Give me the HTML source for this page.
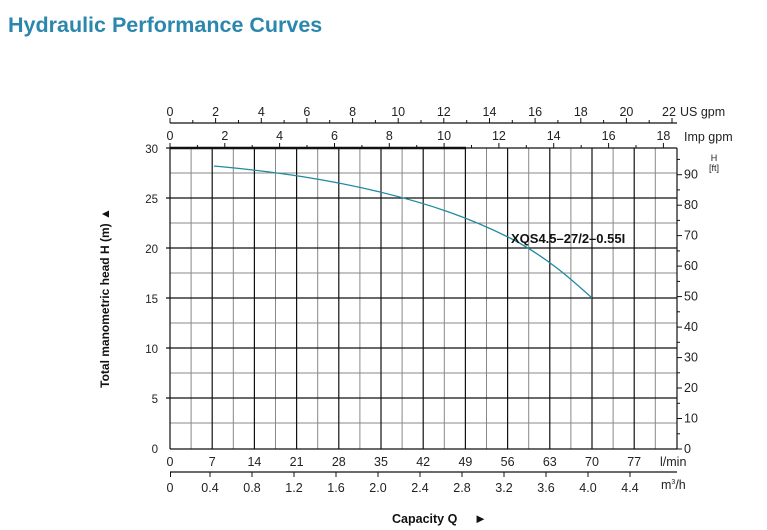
<!DOCTYPE html>
<html><head><meta charset="utf-8"><style>
body{margin:0;background:#fff;width:767px;height:530px;overflow:hidden}
svg{display:block;font-family:"Liberation Sans",Arial,sans-serif}
</style></head><body>
<svg width="767" height="530" viewBox="0 0 767 530" xmlns="http://www.w3.org/2000/svg">
<text x="8" y="32" font-size="21.5" font-weight="bold" fill="#2b87ad">Hydraulic Performance Curves</text>
<g stroke="#888" stroke-width="1">
<line x1="191.1" y1="148" x2="191.1" y2="449"/><line x1="233.3" y1="148" x2="233.3" y2="449"/><line x1="275.5" y1="148" x2="275.5" y2="449"/><line x1="317.7" y1="148" x2="317.7" y2="449"/><line x1="359.9" y1="148" x2="359.9" y2="449"/><line x1="402.1" y1="148" x2="402.1" y2="449"/><line x1="444.3" y1="148" x2="444.3" y2="449"/><line x1="486.5" y1="148" x2="486.5" y2="449"/><line x1="528.7" y1="148" x2="528.7" y2="449"/><line x1="570.9" y1="148" x2="570.9" y2="449"/><line x1="613.1" y1="148" x2="613.1" y2="449"/><line x1="655.3" y1="148" x2="655.3" y2="449"/>
<line x1="170" y1="173" x2="677" y2="173"/><line x1="170" y1="223" x2="677" y2="223"/><line x1="170" y1="273" x2="677" y2="273"/><line x1="170" y1="323" x2="677" y2="323"/><line x1="170" y1="373" x2="677" y2="373"/><line x1="170" y1="423" x2="677" y2="423"/>
</g>
<g stroke="#111" stroke-width="1.2">
<line x1="212.2" y1="148" x2="212.2" y2="449"/><line x1="254.4" y1="148" x2="254.4" y2="449"/><line x1="296.6" y1="148" x2="296.6" y2="449"/><line x1="338.8" y1="148" x2="338.8" y2="449"/><line x1="381" y1="148" x2="381" y2="449"/><line x1="423.2" y1="148" x2="423.2" y2="449"/><line x1="465.4" y1="148" x2="465.4" y2="449"/><line x1="507.6" y1="148" x2="507.6" y2="449"/><line x1="549.8" y1="148" x2="549.8" y2="449"/><line x1="592" y1="148" x2="592" y2="449"/><line x1="634.2" y1="148" x2="634.2" y2="449"/>
<line x1="166" y1="198" x2="677" y2="198"/><line x1="166" y1="248" x2="677" y2="248"/><line x1="166" y1="298" x2="677" y2="298"/><line x1="166" y1="348" x2="677" y2="348"/><line x1="166" y1="398" x2="677" y2="398"/>
<line x1="166" y1="148" x2="170" y2="148"/>
<line x1="170" y1="148" x2="170" y2="449"/><line x1="677" y1="148" x2="677" y2="449"/><line x1="170" y1="449" x2="677" y2="449"/>
</g>
<line x1="170" y1="148" x2="466" y2="148" stroke="#111" stroke-width="2.5"/>
<line x1="466" y1="148" x2="677" y2="148" stroke="#111" stroke-width="1.2"/>
<path d="M214,166 C280,172 330,180 380,192 C430,204 470,218 510,238 C545,256 570,278 592,298" fill="none" stroke="#1f8aa0" stroke-width="1.3"/>
<text x="511" y="243" font-size="13" font-weight="bold" fill="#111">XQS4.5–27/2–0.55I</text>
<g font-size="11.5" fill="#222" text-anchor="end">
<text x="158" y="153">30</text><text x="158" y="203">25</text><text x="158" y="253">20</text><text x="158" y="303">15</text><text x="158" y="353">10</text><text x="158" y="403">5</text><text x="158" y="453">0</text>
</g>
<text transform="translate(109,298) rotate(-90)" font-size="12" font-weight="bold" fill="#111" text-anchor="middle">Total manometric head H (m)   ▲</text>
<line x1="170" y1="123" x2="677" y2="123" stroke="#111" stroke-width="1.2"/>
<g stroke="#111" stroke-width="1">
<line x1="170" y1="123" x2="170" y2="118"/><line x1="192.8" y1="123" x2="192.8" y2="120"/><line x1="215.6" y1="123" x2="215.6" y2="118"/><line x1="238.5" y1="123" x2="238.5" y2="120"/><line x1="261.3" y1="123" x2="261.3" y2="118"/><line x1="284.1" y1="123" x2="284.1" y2="120"/><line x1="306.9" y1="123" x2="306.9" y2="118"/><line x1="329.7" y1="123" x2="329.7" y2="120"/><line x1="352.6" y1="123" x2="352.6" y2="118"/><line x1="375.4" y1="123" x2="375.4" y2="120"/><line x1="398.2" y1="123" x2="398.2" y2="118"/><line x1="421" y1="123" x2="421" y2="120"/><line x1="443.8" y1="123" x2="443.8" y2="118"/><line x1="466.7" y1="123" x2="466.7" y2="120"/><line x1="489.5" y1="123" x2="489.5" y2="118"/><line x1="512.3" y1="123" x2="512.3" y2="120"/><line x1="535.1" y1="123" x2="535.1" y2="118"/><line x1="557.9" y1="123" x2="557.9" y2="120"/><line x1="580.8" y1="123" x2="580.8" y2="118"/><line x1="603.6" y1="123" x2="603.6" y2="120"/><line x1="626.4" y1="123" x2="626.4" y2="118"/><line x1="649.2" y1="123" x2="649.2" y2="120"/><line x1="672" y1="123" x2="672" y2="118"/>
</g>
<g font-size="12.5" fill="#222" text-anchor="middle">
<text x="170" y="116">0</text><text x="215.6" y="116">2</text><text x="261.3" y="116">4</text><text x="306.9" y="116">6</text><text x="352.6" y="116">8</text><text x="398.2" y="116">10</text><text x="443.8" y="116">12</text><text x="489.5" y="116">14</text><text x="535.1" y="116">16</text><text x="580.8" y="116">18</text><text x="626.4" y="116">20</text><text x="669" y="116">22</text>
</g>
<text x="680" y="116" font-size="12.5" fill="#222">US gpm</text>
<g stroke="#111" stroke-width="1">
<line x1="170" y1="148" x2="170" y2="143"/><line x1="197.4" y1="148" x2="197.4" y2="145"/><line x1="224.8" y1="148" x2="224.8" y2="143"/><line x1="252.2" y1="148" x2="252.2" y2="145"/><line x1="279.6" y1="148" x2="279.6" y2="143"/><line x1="307" y1="148" x2="307" y2="145"/><line x1="334.5" y1="148" x2="334.5" y2="143"/><line x1="361.9" y1="148" x2="361.9" y2="145"/><line x1="389.3" y1="148" x2="389.3" y2="143"/><line x1="416.7" y1="148" x2="416.7" y2="145"/><line x1="444.1" y1="148" x2="444.1" y2="143"/><line x1="471.5" y1="148" x2="471.5" y2="145"/><line x1="498.9" y1="148" x2="498.9" y2="143"/><line x1="526.3" y1="148" x2="526.3" y2="145"/><line x1="553.7" y1="148" x2="553.7" y2="143"/><line x1="581.2" y1="148" x2="581.2" y2="145"/><line x1="608.6" y1="148" x2="608.6" y2="143"/><line x1="636" y1="148" x2="636" y2="145"/><line x1="663.4" y1="148" x2="663.4" y2="143"/>
</g>
<g font-size="12.5" fill="#222" text-anchor="middle">
<text x="170" y="140">0</text><text x="224.8" y="140">2</text><text x="279.6" y="140">4</text><text x="334.5" y="140">6</text><text x="389.3" y="140">8</text><text x="444.1" y="140">10</text><text x="498.9" y="140">12</text><text x="553.7" y="140">14</text><text x="608.6" y="140">16</text><text x="663.4" y="140">18</text>
</g>
<text x="684" y="141" font-size="12.5" fill="#222">Imp gpm</text>
<g stroke="#111" stroke-width="1">
<line x1="677" y1="449" x2="682" y2="449"/><line x1="677" y1="433.8" x2="680" y2="433.8"/><line x1="677" y1="418.5" x2="682" y2="418.5"/><line x1="677" y1="403.3" x2="680" y2="403.3"/><line x1="677" y1="388" x2="682" y2="388"/><line x1="677" y1="372.8" x2="680" y2="372.8"/><line x1="677" y1="357.6" x2="682" y2="357.6"/><line x1="677" y1="342.3" x2="680" y2="342.3"/><line x1="677" y1="327.1" x2="682" y2="327.1"/><line x1="677" y1="311.8" x2="680" y2="311.8"/><line x1="677" y1="296.6" x2="682" y2="296.6"/><line x1="677" y1="281.4" x2="680" y2="281.4"/><line x1="677" y1="266.1" x2="682" y2="266.1"/><line x1="677" y1="250.9" x2="680" y2="250.9"/><line x1="677" y1="235.6" x2="682" y2="235.6"/><line x1="677" y1="220.4" x2="680" y2="220.4"/><line x1="677" y1="205.2" x2="682" y2="205.2"/><line x1="677" y1="189.9" x2="680" y2="189.9"/><line x1="677" y1="174.7" x2="682" y2="174.7"/><line x1="677" y1="159.4" x2="680" y2="159.4"/>
</g>
<g font-size="12.5" fill="#222">
<text x="684" y="453">0</text><text x="684" y="422.5">10</text><text x="684" y="392">20</text><text x="684" y="361.6">30</text><text x="684" y="331.1">40</text><text x="684" y="300.6">50</text><text x="684" y="270.1">60</text><text x="684" y="239.6">70</text><text x="684" y="209.2">80</text><text x="684" y="178.7">90</text>
</g>
<text x="714" y="161" font-size="9" fill="#222" text-anchor="middle">H</text>
<text x="714" y="171" font-size="9" fill="#222" text-anchor="middle">[ft]</text>
<g font-size="12.5" fill="#222" text-anchor="middle">
<text x="170" y="466">0</text><text x="212.2" y="466">7</text><text x="254.4" y="466">14</text><text x="296.6" y="466">21</text><text x="338.8" y="466">28</text><text x="381" y="466">35</text><text x="423.2" y="466">42</text><text x="465.4" y="466">49</text><text x="507.6" y="466">56</text><text x="549.8" y="466">63</text><text x="592" y="466">70</text><text x="634.2" y="466">77</text>
</g>
<text x="660" y="466" font-size="12.5" fill="#222">l/min</text>
<line x1="170" y1="472" x2="677" y2="472" stroke="#111" stroke-width="1.2"/>
<g stroke="#111" stroke-width="1">
<line x1="170.5" y1="472" x2="170.5" y2="477"/><line x1="210" y1="472" x2="210" y2="477"/><line x1="252" y1="472" x2="252" y2="477"/><line x1="294" y1="472" x2="294" y2="477"/><line x1="336" y1="472" x2="336" y2="477"/><line x1="378" y1="472" x2="378" y2="477"/><line x1="420" y1="472" x2="420" y2="477"/><line x1="462" y1="472" x2="462" y2="477"/><line x1="504" y1="472" x2="504" y2="477"/><line x1="546" y1="472" x2="546" y2="477"/><line x1="588" y1="472" x2="588" y2="477"/><line x1="630" y1="472" x2="630" y2="477"/>
</g>
<g font-size="12.5" fill="#222" text-anchor="middle">
<text x="170" y="492">0</text><text x="210" y="492">0.4</text><text x="252" y="492">0.8</text><text x="294" y="492">1.2</text><text x="336" y="492">1.6</text><text x="378" y="492">2.0</text><text x="420" y="492">2.4</text><text x="462" y="492">2.8</text><text x="504" y="492">3.2</text><text x="546" y="492">3.6</text><text x="588" y="492">4.0</text><text x="630" y="492">4.4</text>
</g>
<text x="661" y="489" font-size="12.5" fill="#222">m<tspan font-size="7" dy="-5">3</tspan><tspan dy="5">/h</tspan></text>
<text x="392" y="523" font-size="12.5" font-weight="bold" fill="#111">Capacity Q</text>
<text x="474" y="523" font-size="13" fill="#111">►</text>
</svg>
</body></html>
